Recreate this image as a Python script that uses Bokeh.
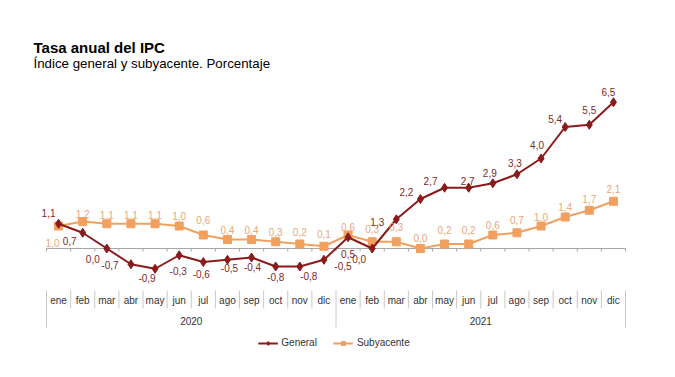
from bokeh.plotting import figure
from bokeh.models import Range1d, Label, Legend, LegendItem
from bokeh.core.properties import value
from bokeh.embed import file_html
from bokeh.resources import INLINE

# ---- data ----
months = ["ene", "feb", "mar", "abr", "may", "jun", "jul", "ago", "sep", "oct", "nov", "dic"]
years = ["2020", "2021"]
general = [1.1, 0.7, 0.0, -0.7, -0.9, -0.3, -0.6, -0.5, -0.4, -0.8, -0.8, -0.5,
           0.5, 0.0, 1.3, 2.2, 2.7, 2.7, 2.9, 3.3, 4.0, 5.4, 5.5, 6.5]
subyacente = [1.0, 1.2, 1.1, 1.1, 1.1, 1.0, 0.6, 0.4, 0.4, 0.3, 0.2, 0.1,
              0.6, 0.3, 0.3, 0.0, 0.2, 0.2, 0.6, 0.7, 1.0, 1.4, 1.7, 2.1]

# ---- label placement (pixel offsets, style only) ----
gen_dx = [-10, -13, -14, -21, -8, -1, -2, 2, 1, 0, 9, 19,
          0, -13, -19, -14, -14, -1, -3, -2, -4, -10, 0, -5]
gen_dy = [-11, 8, 10, 1, 9, 16, 12, 8, 9, 10, 9, 6,
          17, 10, 3, -7, -7, -7, -10, -11, -14, -8, -15, -10]
sub_dx = [-6] + [0] * 23
sub_dy = [17, -8, -9, -9, -9, -10, -15, -10, -10, -10, -12, -12,
          -8, -13, -15, -11, -14, -14, -10, -13, -9, -10, -11, -12]

GEN_COLOR = "#8B1A1A"
GEN_LABEL = "#7A2A2A"
SUB_COLOR = "#F2A05E"
SUB_LABEL = "#E9A77A"
FONT = "Liberation Sans"

n = len(general)
xs = [i + 0.5 for i in range(n)]
fmt = lambda v: f"{v:.1f}".replace(".", ",")

# canvas / scale layout (pixels)
W, H = 667, 369
AX_LEFT, AX_WIDTH = 46, 579          # category band extent
ZERO_Y, PPU = 248, 22.5              # pixel row of zero, pixels per unit
ppx = AX_WIDTH / n
X0 = -AX_LEFT / ppx
X1 = n + (W - AX_LEFT - AX_WIDTH) / ppx
Y0 = -(H - ZERO_Y) / PPU
Y1 = ZERO_Y / PPU

p = figure(width=W, height=H, output_backend="svg", toolbar_location=None,
           x_range=Range1d(X0, X1), y_range=Range1d(Y0, Y1),
           x_axis_location=None, y_axis_location=None,
           min_border=0)
p.grid.visible = False
p.outline_line_color = None
p.background_fill_color = "white"

# zero line and small ticks
p.segment(x0=[0], y0=[0], x1=[n], y1=[0], line_color="#A6A6A6", line_width=1)
p.segment(x0=list(range(n + 1)), y0=[0] * (n + 1), x1=list(range(n + 1)),
          y1=[-3 / PPU] * (n + 1), line_color="#A6A6A6", line_width=1)

# category axis: separators, month labels, year labels
month_sep = [i for i in range(1, n) if i % 12 != 0]
p.segment(x0=month_sep, y0=[-42 / PPU] * len(month_sep), x1=month_sep,
          y1=[-60 / PPU] * len(month_sep), line_color="#C8C8C8", line_width=1)
year_sep = [0, 12, 24]
p.segment(x0=year_sep, y0=[-42 / PPU] * 3, x1=year_sep,
          y1=[-79 / PPU] * 3, line_color="#C8C8C8", line_width=1)
p.text(x=xs, y=[0] * n, text=months * len(years), y_offset=52,
       text_align="center", text_baseline="middle", text_font=value(FONT),
       text_font_size="10px", text_color="#333333")
p.text(x=[6, 18], y=[0, 0], text=years, y_offset=72,
       text_align="center", text_baseline="middle", text_font=value(FONT),
       text_font_size="10px", text_color="#333333")

# series
sub_line = p.line(xs, subyacente, line_color=SUB_COLOR, line_width=2)
sub_pts = p.scatter(xs, subyacente, marker="square", size=8, fill_color=SUB_COLOR,
                    line_color=SUB_COLOR)
gen_line = p.line(xs, general, line_color=GEN_COLOR, line_width=2)
gen_pts = p.scatter(xs, general, marker="diamond", size=9, fill_color=GEN_COLOR,
                    line_color=GEN_COLOR)

p.text(x=xs, y=subyacente, text=[fmt(v) for v in subyacente], x_offset=sub_dx,
       y_offset=sub_dy, text_align="center", text_baseline="middle",
       text_font=value(FONT), text_font_size="10px", text_color=SUB_LABEL)
p.text(x=xs, y=general, text=[fmt(v) for v in general], x_offset=gen_dx,
       y_offset=gen_dy, text_align="center", text_baseline="middle",
       text_font=value(FONT), text_font_size="10px", text_color=GEN_LABEL)

legend = Legend(items=[LegendItem(label="General", renderers=[gen_line, gen_pts]),
                       LegendItem(label="Subyacente", renderers=[sub_line, sub_pts])],
                location="bottom_center", orientation="horizontal",
                border_line_color=None, background_fill_alpha=0,
                label_text_font=FONT, label_text_font_size="10px",
                label_text_color="#333333", glyph_width=20, glyph_height=10,
                label_standoff=4, spacing=16, padding=0, margin=21)
p.add_layout(legend)

p.add_layout(Label(x=33, y=H - 47, x_units="screen", y_units="screen",
                   text="Tasa anual del IPC", text_font=FONT, text_font_size="15px",
                   text_font_style="bold", text_color="#000000",
                   text_baseline="alphabetic"))
p.add_layout(Label(x=33, y=H - 63, x_units="screen", y_units="screen",
                   text="Índice general y subyacente. Porcentaje", text_font=FONT,
                   text_font_size="13.3px", text_color="#000000",
                   text_baseline="alphabetic"))

open("out.html", "w").write(file_html(p, INLINE))
